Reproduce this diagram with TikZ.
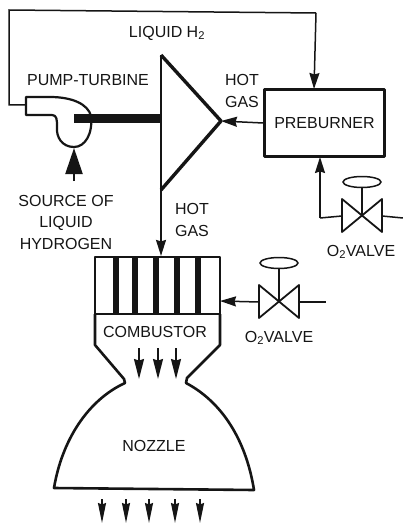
\documentclass[tikz,border=0pt]{standalone}
\usepackage{fontspec}
\setmainfont{Liberation Sans}
\usepackage{tikz}
\usetikzlibrary{arrows.meta, positioning, shapes.geometric, calc}
\definecolor{ink}{HTML}{151515}

\begin{document}
\begin{tikzpicture}[
  x=1pt, y=-1pt,
  lbl/.style={font=\fontsize{16}{21.5}\selectfont, text=ink, inner sep=0pt, align=center},
  pipe/.style={draw=ink, line width=1.5pt},
  flow/.style={pipe, -{Stealth[length=16pt, width=10pt, inset=1.5pt]}},
  wall/.style={draw=ink, line width=2.6pt, line join=round},
  box/.style={wall, rectangle, minimum width=120pt, minimum height=67pt, inner sep=0pt},
  wheel/.style={draw=ink, line width=1.5pt, ellipse, minimum width=38pt, minimum height=11pt, inner sep=0pt}
]
\useasboundingbox[fill=white] (0,0) rectangle (403,524);

% turbine
\coordinate (ta) at (161,55);
\coordinate (tb) at (161,190);
\coordinate (tc) at (221,121);
\draw[wall, line width=2pt] (ta) -- (tb);
\draw[wall, line width=3.4pt] (ta) -- (tc) -- (tb);

% pump
\coordinate (pumpout) at (26,105);
\coordinate (pumpin) at (74,148);
\coordinate (pumpshaft) at (74,118.5);
\coordinate (tshaft) at (160,118.5);
\draw[wall, line width=2.2pt] (26,97) -- (50,97) .. controls (72,97) and (88,104) .. (91,116)
  .. controls (93,134) and (85,147) .. (74,147) .. controls (62,147) and (56,137) .. (57,127)
  .. controls (57,120) and (57,115) .. (52,115) -- (26,115) -- cycle;
\draw[draw=ink, line width=9pt] (pumpshaft) -- (tshaft);

% preburner
\node[box] (preburner) at (324.5,123) {};
\node[lbl] (prelabel) at (preburner.center) {PREBURNER};
\coordinate (prein) at (314,89);
\coordinate (loopa) at (9,105);
\coordinate (loopb) at (9,10);
\coordinate (loopc) at (316,13);
\draw[pipe] (pumpout) -- (loopa) -- (loopb) -- (loopc);
\draw[flow] (loopc) -- (prein);
\draw[flow] (preburner.west) -- (tc);

% injector and combustor
\node[wall, rectangle, minimum width=125pt, minimum height=57pt, inner sep=0pt, line width=2.2pt] (injector) at (157.5,285.5) {};
\foreach \bx in {116,135,156,177,198} {
  \fill[ink] (\bx-2.6,257) rectangle (\bx+2.6,314);
}
\draw[flow] (tb) -- (injector.north -| tb);

\coordinate (source) at (74,181);
\draw[pipe, line width=2.2pt, -{Stealth[length=26pt, width=17pt, inset=0pt]}] (source) -- (pumpin);

% nozzle
\draw[wall] (95,314) -- (95,345) -- (124,379) -- (125,383)
  .. controls (88,400) and (62,440) .. (54,488) -- (254,490)
  .. controls (246,440) and (222,402) .. (186,383) -- (187,378) -- (220,345) -- (220,314);

\foreach \ax in {139,158,176} {
  \coordinate (top\ax) at (\ax,348);
  \coordinate (tip\ax) at (\ax,379);
  \draw[pipe, -{Stealth[length=20pt, width=10pt, inset=1.5pt]}] (top\ax) -- (tip\ax);
}
\foreach \ax in {102,126,149,175,200} {
  \coordinate (top\ax) at (\ax,499);
  \coordinate (tip\ax) at (\ax,523);
  \draw[pipe, -{Stealth[length=20pt, width=8pt, inset=1.5pt]}] (top\ax) -- (tip\ax);
}

% valves
\foreach \nm/\vx/\vy/\ey in {vone/362/216/182, vtwo/279/302/263} {
  \coordinate (\nm) at (\vx,\vy);
  \coordinate (\nm w) at (\vx-20,\vy);
  \coordinate (\nm e) at (\vx+20,\vy);
  \draw[wall, line width=1.8pt] (\vx-20,\vy-17) -- (\vx+20,\vy+16) -- (\vx+20,\vy-17) -- (\vx-20,\vy+16) -- cycle;
  \node[wheel] (\nm wheel) at (\vx,\ey) {};
  \draw[pipe] (\nm) -- (\nm wheel);
}
\coordinate (voneout) at (403,218);
\coordinate (vtwoout) at (326,302);
\coordinate (bend) at (320,218);
\coordinate (prelow) at (320,157);
\coordinate (injside) at (220,301);
\draw[pipe] (vonee) -- (voneout);
\draw[pipe] (vonew) -- (bend);
\draw[flow] (bend) -- (prelow);
\draw[pipe] (vtwoe) -- (vtwoout);
\draw[flow] (vtwow) -- (injside);

% labels
\node[lbl] (liquid) at (167,33) {LIQUID H\textsubscript{2}};
\node[lbl] (pumplabel) at (88,80) {PUMP-TURBINE};
\node[lbl] (hotone) at (242,91) {HOT\\GAS};
\node[lbl] (hottwo) at (192,220) {HOT\\GAS};
\node[lbl] (srclabel) at (66,222) {SOURCE OF\\LIQUID\\HYDROGEN};
\node[lbl] (valveone) at (361,252) {O\textsubscript{2}VALVE};
\node[lbl] (valvetwo) at (279,338) {O\textsubscript{2}VALVE};
\node[lbl] (comblabel) at (155,332) {COMBUSTOR};
\node[lbl] (nozlabel) at (154,446) {NOZZLE};
\end{tikzpicture}
\end{document}
